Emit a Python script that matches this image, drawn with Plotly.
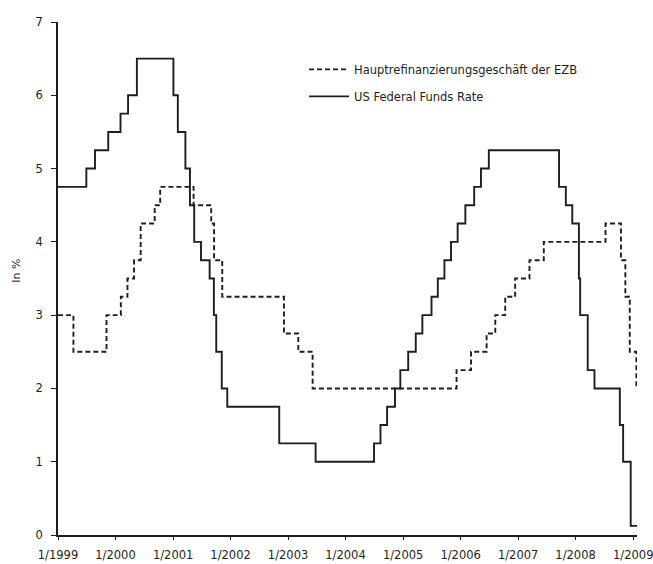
import plotly.graph_objects as go

# ECB main refinancing rate (Hauptrefinanzierungsgeschäft), step changes
ecb_dates = ["1999-01-01", "1999-04-09", "1999-11-05", "2000-02-04", "2000-03-17",
             "2000-04-28", "2000-06-09", "2000-09-06", "2000-10-11", "2001-05-11",
             "2001-08-31", "2001-09-18", "2001-11-09", "2002-12-06", "2003-03-07",
             "2003-06-06", "2005-12-06", "2006-03-08", "2006-06-15", "2006-08-09",
             "2006-10-11", "2006-12-13", "2007-03-14", "2007-06-13", "2008-07-09",
             "2008-10-15", "2008-11-12", "2008-12-10", "2009-01-21"]
ecb_rates = [3.00, 2.50, 3.00, 3.25, 3.50,
             3.75, 4.25, 4.50, 4.75, 4.50,
             4.25, 3.75, 3.25, 2.75, 2.50,
             2.00, 2.25, 2.50, 2.75, 3.00,
             3.25, 3.50, 3.75, 4.00, 4.25,
             3.75, 3.25, 2.50, 2.00]

# US Federal Funds Rate target, step changes
fed_dates = ["1999-01-01", "1999-06-30", "1999-08-24", "1999-11-16", "2000-02-02",
             "2000-03-21", "2000-05-16", "2001-01-03", "2001-01-31", "2001-03-20",
             "2001-04-18", "2001-05-15", "2001-06-27", "2001-08-21", "2001-09-17",
             "2001-10-02", "2001-11-06", "2001-12-11", "2002-11-06", "2003-06-25",
             "2004-06-30", "2004-08-10", "2004-09-21", "2004-11-10", "2004-12-14",
             "2005-02-02", "2005-03-22", "2005-05-03", "2005-06-30", "2005-08-09",
             "2005-09-20", "2005-11-01", "2005-12-13", "2006-01-31", "2006-03-28",
             "2006-05-10", "2006-06-29", "2007-09-18", "2007-10-31", "2007-12-11",
             "2008-01-22", "2008-01-30", "2008-03-18", "2008-04-30", "2008-10-08",
             "2008-10-29", "2008-12-16", "2009-01-25"]
fed_rates = [4.75, 5.00, 5.25, 5.50, 5.75,
             6.00, 6.50, 6.00, 5.50, 5.00,
             4.50, 4.00, 3.75, 3.50, 3.00,
             2.50, 2.00, 1.75, 1.25, 1.00,
             1.25, 1.50, 1.75, 2.00, 2.25,
             2.50, 2.75, 3.00, 3.25, 3.50,
             3.75, 4.00, 4.25, 4.50, 4.75,
             5.00, 5.25, 4.75, 4.50, 4.25,
             3.50, 3.00, 2.25, 2.00, 1.50,
             1.00, 0.125, 0.125]

series_names = ["Hauptrefinanzierungsgeschäft der EZB", "US Federal Funds Rate"]

tick_dates = ["1999-01-01", "2000-01-01", "2001-01-01", "2002-01-01", "2003-01-01",
              "2004-01-01", "2005-01-01", "2006-01-01", "2007-01-01", "2008-01-01",
              "2009-01-01"]
tick_labels = ["1/1999", "1/2000", "1/2001", "1/2002", "1/2003", "1/2004",
               "1/2005", "1/2006", "1/2007", "1/2008", "1/2009"]
y_ticks = [0, 1, 2, 3, 4, 5, 6, 7]
y_title = "In %"

FONT = "DejaVu Sans"
INK = "#1e1e1e"

fig = go.Figure()
fig.add_trace(go.Scatter(
    x=ecb_dates, y=ecb_rates, mode="lines", line_shape="hv",
    name=series_names[0], legendgroup="ecb",
    line=dict(color=INK, width=1.9, dash="5px,3px"),
))
fig.add_trace(go.Scatter(
    x=fed_dates, y=fed_rates, mode="lines", line_shape="hv",
    name=series_names[1], legendgroup="fed",
    line=dict(color=INK, width=1.9),
))

fig.update_layout(
    width=653, height=564,
    margin=dict(l=58, r=16, t=22, b=29, autoexpand=False),
    paper_bgcolor="white", plot_bgcolor="white",
    font=dict(family=FONT, size=11, color=INK),
    showlegend=True,
    legend=dict(
        x=0.425, y=0.936, xanchor="left", yanchor="top",
        bgcolor="rgba(0,0,0,0)", borderwidth=0,
        font=dict(family=FONT, size=11.5, color=INK),
        traceorder="grouped", tracegroupgap=8, itemwidth=40,
    ),
    xaxis=dict(
        type="date", range=["1999-01-01", "2009-01-25"],
        tickmode="array", tickvals=tick_dates, ticktext=tick_labels,
        showgrid=False, zeroline=False,
        showline=True, linecolor=INK, linewidth=1.6,
        ticks="outside", ticklen=3, tickwidth=1.2, tickcolor=INK,
        ticklabelstandoff=5, ticklabeloverflow="allow",
        tickfont=dict(family=FONT, size=11.5, color=INK),
        automargin=False,
    ),
    yaxis=dict(
        range=[0, 7], tickmode="array", tickvals=y_ticks,
        showgrid=False, zeroline=False,
        showline=True, linecolor=INK, linewidth=1.6,
        ticks="outside", ticklen=5, tickwidth=1.2, tickcolor=INK,
        ticklabelstandoff=6,
        tickfont=dict(family=FONT, size=11.5, color=INK),
        automargin=False,
    ),
    annotations=[dict(
        text=y_title, xref="paper", yref="paper",
        x=-0.071, y=0.515, xanchor="center", yanchor="middle",
        textangle=-90, showarrow=False,
        font=dict(family=FONT, size=11, color=INK),
    )],
)

# remove the browser's default 8px body margin so the figure fills the window
fig.write_html(
    "out.html",
    config={"displayModeBar": False},
    post_script="document.body.style.margin='0';document.body.style.overflow='hidden';",
)
